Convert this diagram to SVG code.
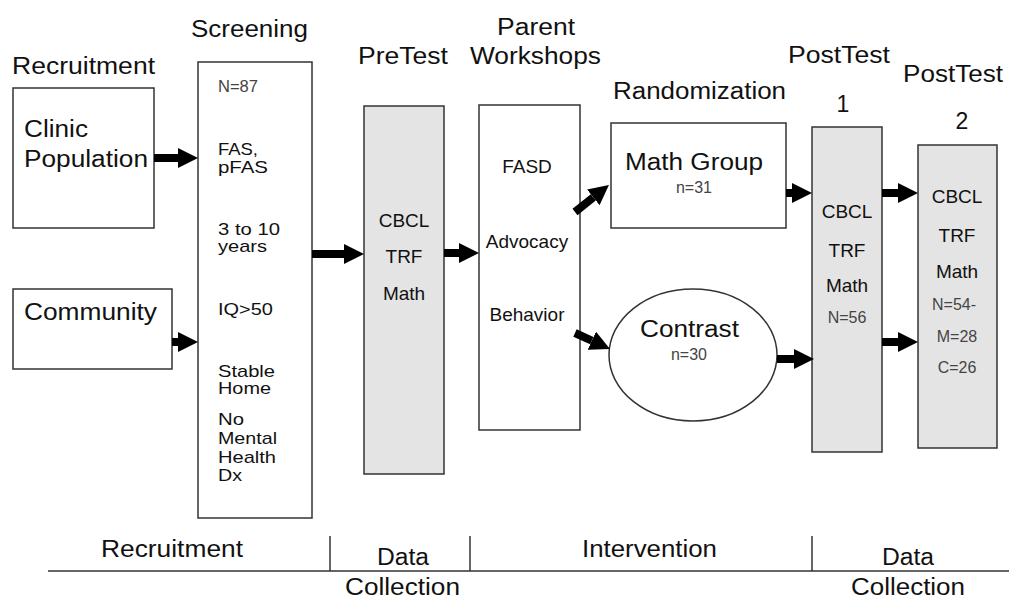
<svg xmlns="http://www.w3.org/2000/svg" width="1009" height="598" viewBox="0 0 1009 598">
<style>
text{font-family:"Liberation Sans",Arial,sans-serif;fill:#111}
.t{font-size:23px}
.m{font-size:19px}
.c{font-size:17px}
.s{font-size:16px;fill:#444}
.box{fill:#fff;stroke:#333;stroke-width:1.5}
.gray{fill:#e4e4e4;stroke:#333;stroke-width:1.5}
.arr{stroke:#000;stroke-width:8;fill:none;marker-end:url(#ah)}
.ax{stroke:#333;stroke-width:1.5}
</style>
<defs>
<marker id="ah" markerUnits="userSpaceOnUse" viewBox="0 0 20 20" markerWidth="20" markerHeight="20" refX="0" refY="10" orient="auto">
<path d="M0,0 L20,10 L0,20 z" fill="#000"/>
</marker>
</defs>
<rect width="1009" height="598" fill="#fff"/>

<g id="titles" class="titles">
<text class="t" x="12" y="74" textLength="143" lengthAdjust="spacingAndGlyphs">Recruitment</text>
<text class="t" x="191" y="37" textLength="117" lengthAdjust="spacingAndGlyphs">Screening</text>
<text class="t" x="358" y="64" textLength="90" lengthAdjust="spacingAndGlyphs">PreTest</text>
<text class="t" x="497" y="35" textLength="78" lengthAdjust="spacingAndGlyphs">Parent</text>
<text class="t" x="470" y="64" textLength="131" lengthAdjust="spacingAndGlyphs">Workshops</text>
<text class="t" x="613" y="99" textLength="173" lengthAdjust="spacingAndGlyphs">Randomization</text>
<text class="t" x="788" y="63" textLength="102" lengthAdjust="spacingAndGlyphs">PostTest</text>
<text class="t" x="843" y="112" text-anchor="middle">1</text>
<text class="t" x="903" y="82" textLength="100" lengthAdjust="spacingAndGlyphs">PostTest</text>
<text class="t" x="962" y="129" text-anchor="middle">2</text>
</g>

<g id="clinic">
<rect class="box" x="13" y="88" width="141" height="140"/>
<text class="t" x="24" y="137" textLength="64" lengthAdjust="spacingAndGlyphs">Clinic</text>
<text class="t" x="24" y="167" textLength="124" lengthAdjust="spacingAndGlyphs">Population</text>
</g>

<g id="community">
<rect class="box" x="13" y="289" width="159" height="80"/>
<text class="t" x="24" y="320" textLength="133" lengthAdjust="spacingAndGlyphs">Community</text>
</g>

<g id="screening">
<rect class="box" x="198" y="62" width="114" height="456"/>
<text class="s" x="218" y="92" textLength="40" lengthAdjust="spacingAndGlyphs">N=87</text>
<text class="c" x="218" y="155" textLength="40" lengthAdjust="spacingAndGlyphs">FAS,</text>
<text class="c" x="218" y="173" textLength="50" lengthAdjust="spacingAndGlyphs">pFAS</text>
<text class="c" x="218" y="235" textLength="62" lengthAdjust="spacingAndGlyphs">3 to 10</text>
<text class="c" x="218" y="252" textLength="49" lengthAdjust="spacingAndGlyphs">years</text>
<text class="c" x="218" y="315" textLength="55" lengthAdjust="spacingAndGlyphs">IQ&gt;50</text>
<text class="c" x="218" y="377" textLength="57" lengthAdjust="spacingAndGlyphs">Stable</text>
<text class="c" x="218" y="394" textLength="53" lengthAdjust="spacingAndGlyphs">Home</text>
<text class="c" x="218" y="425" textLength="26" lengthAdjust="spacingAndGlyphs">No</text>
<text class="c" x="218" y="444" textLength="59" lengthAdjust="spacingAndGlyphs">Mental</text>
<text class="c" x="218" y="463" textLength="58" lengthAdjust="spacingAndGlyphs">Health</text>
<text class="c" x="218" y="481" textLength="24" lengthAdjust="spacingAndGlyphs">Dx</text>
</g>

<g id="pretest">
<rect class="gray" x="364" y="106" width="80" height="368"/>
<text class="m" x="404" y="227" text-anchor="middle">CBCL</text>
<text class="m" x="404" y="263" text-anchor="middle">TRF</text>
<text class="m" x="404" y="300" text-anchor="middle">Math</text>
</g>

<g id="workshops">
<rect class="box" x="479" y="105" width="101" height="325"/>
<text class="m" x="527" y="173" text-anchor="middle">FASD</text>
<text class="m" x="527" y="248" text-anchor="middle">Advocacy</text>
<text class="m" x="527" y="321" text-anchor="middle">Behavior</text>
</g>

<g id="mathgroup">
<rect class="box" x="611" y="123" width="175" height="105"/>
<text class="t" x="625" y="170" textLength="138" lengthAdjust="spacingAndGlyphs">Math Group</text>
<text class="s" x="694" y="193" text-anchor="middle">n=31</text>
</g>

<g id="contrast">
<ellipse class="box" cx="693" cy="355" rx="84" ry="66"/>
<text class="t" x="640" y="337" textLength="99" lengthAdjust="spacingAndGlyphs">Contrast</text>
<text class="s" x="689" y="360" text-anchor="middle">n=30</text>
</g>

<g id="posttest1">
<rect class="gray" x="812" y="127" width="70" height="325"/>
<text class="m" x="847" y="218" text-anchor="middle">CBCL</text>
<text class="m" x="847" y="257" text-anchor="middle">TRF</text>
<text class="m" x="847" y="292" text-anchor="middle">Math</text>
<text class="s" x="847" y="323" text-anchor="middle">N=56</text>
</g>

<g id="posttest2">
<rect class="gray" x="918" y="145" width="79" height="303"/>
<text class="m" x="957" y="203" text-anchor="middle">CBCL</text>
<text class="m" x="957" y="242" text-anchor="middle">TRF</text>
<text class="m" x="957" y="278" text-anchor="middle">Math</text>
<text class="s" x="954" y="310" text-anchor="middle">N=54-</text>
<text class="s" x="957" y="342" text-anchor="middle">M=28</text>
<text class="s" x="957" y="373" text-anchor="middle">C=26</text>
</g>

<g id="connectors">
<line class="arr" x1="154" y1="158" x2="178" y2="158"/>
<line class="arr" x1="172" y1="342" x2="178" y2="342"/>
<line class="arr" x1="312" y1="254" x2="344" y2="254"/>
<line class="arr" x1="444" y1="253" x2="459" y2="253"/>
<line class="arr" x1="575" y1="212" x2="593.3" y2="197.4"/>
<line class="arr" x1="575" y1="333" x2="591.8" y2="340.7"/>
<line class="arr" x1="786" y1="193" x2="792" y2="193"/>
<line class="arr" x1="777" y1="359" x2="794" y2="359"/>
<line class="arr" x1="882" y1="193" x2="898" y2="193"/>
<line class="arr" x1="882" y1="342" x2="898" y2="342"/>
</g>

<g id="phases">
<line class="ax" x1="48" y1="571" x2="1009" y2="571"/>
<line class="ax" x1="330" y1="536" x2="330" y2="571"/>
<line class="ax" x1="470" y1="536" x2="470" y2="571"/>
<line class="ax" x1="812" y1="536" x2="812" y2="571"/>
<text class="t" x="101" y="557" textLength="142" lengthAdjust="spacingAndGlyphs">Recruitment</text>
<text class="t" x="377" y="565" textLength="52" lengthAdjust="spacingAndGlyphs">Data</text>
<text class="t" x="345" y="595" textLength="115" lengthAdjust="spacingAndGlyphs">Collection</text>
<text class="t" x="582" y="557" textLength="135" lengthAdjust="spacingAndGlyphs">Intervention</text>
<text class="t" x="882" y="565" textLength="52" lengthAdjust="spacingAndGlyphs">Data</text>
<text class="t" x="851" y="595" textLength="114" lengthAdjust="spacingAndGlyphs">Collection</text>
</g>
</svg>
